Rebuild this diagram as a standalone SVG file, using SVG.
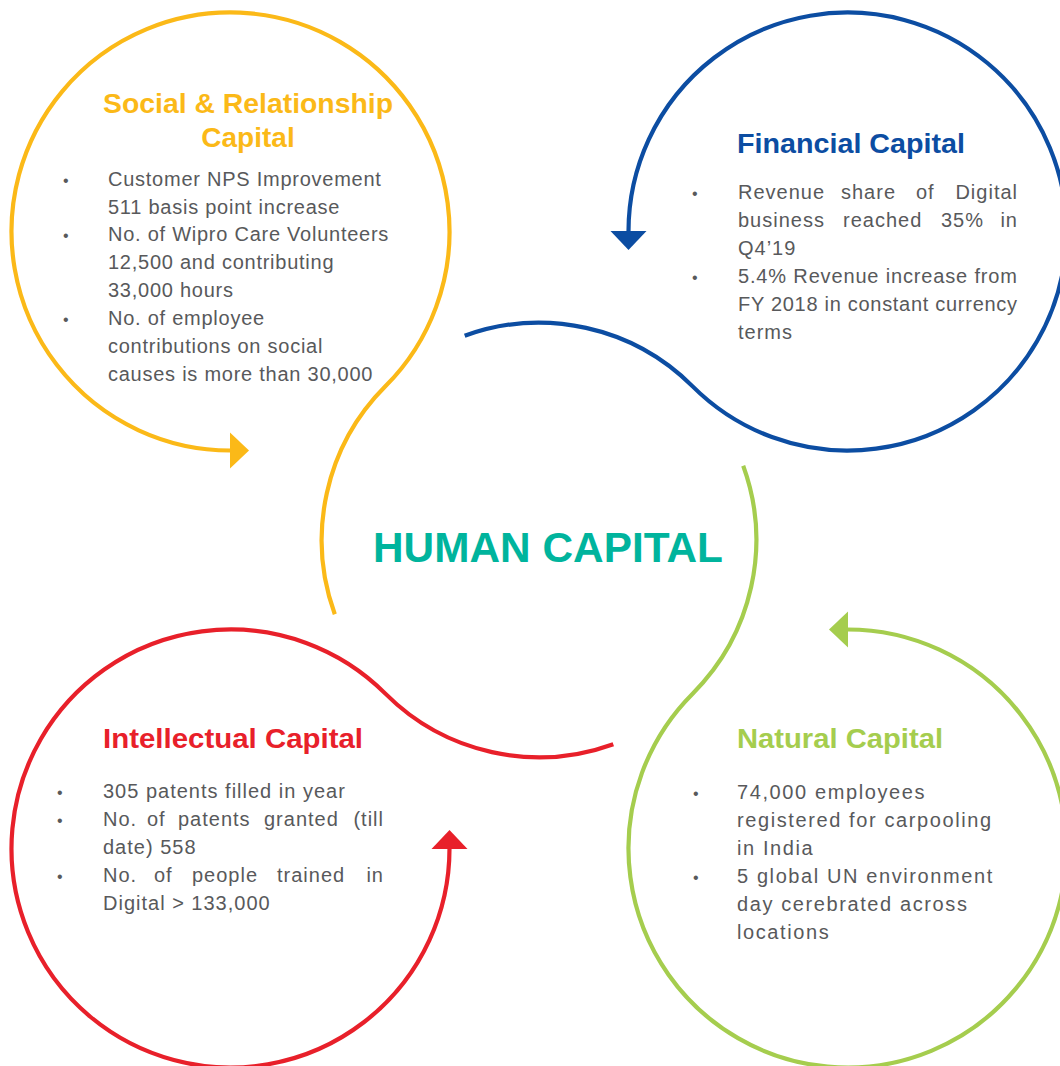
<svg xmlns="http://www.w3.org/2000/svg" xmlns:xlink="http://www.w3.org/1999/xlink" width="1060" height="1066" viewBox="0 0 1060 1066">
<style>
.title{font-family:"Liberation Sans",Arial,sans-serif;font-weight:bold;font-size:28px}
.body{font-family:"Liberation Sans",Arial,sans-serif;font-size:20px;fill:#58595B;letter-spacing:1px}
.green .body{letter-spacing:1.6px}
.yellow .body{letter-spacing:0.75px}
.bullet{font-family:"Liberation Sans",Arial,sans-serif;font-size:16px;fill:#58595B}
.end{text-anchor:end}
</style>
<defs>
<g id="lobe">
<path d="M 334.8 614.3 A 217.28 217.28 0 0 1 385.36 386.36 A 219 219 0 1 0 230.5 450.5" fill="none" stroke="currentColor" stroke-width="4.2"/>
<polygon points="230,432.5 249,450.5 230,468.5" fill="currentColor"/>
</g>
</defs>
<rect width="1060" height="1066" fill="#ffffff"/>
<g id="connectors">
<use xlink:href="#lobe" color="#FBB918"/>
<use xlink:href="#lobe" color="#0C4DA2" transform="rotate(90 539 540)"/>
<use xlink:href="#lobe" color="#A5CD4E" transform="rotate(180 539 540)"/>
<use xlink:href="#lobe" color="#E8202A" transform="rotate(270 539 540)"/>
</g>
<g id="human-capital">
<text x="548" y="562" text-anchor="middle" font-family="Liberation Sans, Arial, sans-serif" font-weight="bold" font-size="42" fill="#00B49D" textLength="350" lengthAdjust="spacingAndGlyphs">HUMAN CAPITAL</text>
</g>
<g id="social-relationship-capital" class="yellow">
<text class="title" fill="#FBB918" x="248" y="113" text-anchor="middle" textLength="290" lengthAdjust="spacingAndGlyphs">Social &amp; Relationship</text>
<text class="title" fill="#FBB918" x="248" y="147" text-anchor="middle">Capital</text>
<text class="bullet" x="63" y="186">•</text>
<text class="bullet" x="63" y="241">•</text>
<text class="bullet" x="63" y="325">•</text>
<text class="body" x="108" y="186">Customer NPS Improvement</text>
<text class="body" x="108" y="214">511 basis point increase</text>
<text class="body" x="108" y="241">No. of Wipro Care Volunteers</text>
<text class="body" x="108" y="269">12,500 and contributing</text>
<text class="body" x="108" y="297">33,000 hours</text>
<text class="body" x="108" y="325">No. of employee</text>
<text class="body" x="108" y="353">contributions on social</text>
<text class="body" x="108" y="381">causes is more than 30,000</text>
</g>
<g id="financial-capital">
<text class="title" fill="#0C4DA2" x="737" y="153" textLength="228" lengthAdjust="spacingAndGlyphs">Financial Capital</text>
<text class="bullet" x="692" y="199">•</text>
<text class="bullet" x="692" y="283">•</text>
<text class="body" y="199"><tspan x="738">Revenue</tspan><tspan x="841">share</tspan><tspan x="916">of</tspan><tspan x="1018" class="end">Digital</tspan></text>
<text class="body" y="227"><tspan x="738">business</tspan><tspan x="843">reached</tspan><tspan x="941">35%</tspan><tspan x="1018" class="end">in</tspan></text>
<text class="body" x="738" y="255">Q4’19</text>
<text class="body" x="738" y="283" textLength="280" lengthAdjust="spacing">5.4% Revenue increase from</text>
<text class="body" x="738" y="311" textLength="280" lengthAdjust="spacing">FY 2018 in constant currency</text>
<text class="body" x="738" y="339">terms</text>
</g>
<g id="intellectual-capital">
<text class="title" fill="#E8202A" x="103" y="748" textLength="260" lengthAdjust="spacingAndGlyphs">Intellectual Capital</text>
<text class="bullet" x="57" y="798">•</text>
<text class="bullet" x="57" y="826">•</text>
<text class="bullet" x="57" y="882">•</text>
<text class="body" x="103" y="798">305 patents filled in year</text>
<text class="body" y="826"><tspan x="103">No.</tspan><tspan x="147">of</tspan><tspan x="178">patents</tspan><tspan x="264">granted</tspan><tspan x="384" class="end">(till</tspan></text>
<text class="body" x="103" y="854">date) 558</text>
<text class="body" y="882"><tspan x="103">No.</tspan><tspan x="154">of</tspan><tspan x="192">people</tspan><tspan x="277">trained</tspan><tspan x="384" class="end">in</tspan></text>
<text class="body" x="103" y="910">Digital &gt; 133,000</text>
</g>
<g id="natural-capital" class="green">
<text class="title" fill="#A5CD4E" x="737" y="748" textLength="206" lengthAdjust="spacingAndGlyphs">Natural Capital</text>
<text class="bullet" x="693" y="799">•</text>
<text class="bullet" x="693" y="883">•</text>
<text class="body" x="737" y="799">74,000 employees</text>
<text class="body" x="737" y="827">registered for carpooling</text>
<text class="body" x="737" y="855">in India</text>
<text class="body" x="737" y="883">5 global UN environment</text>
<text class="body" x="737" y="911">day cerebrated across</text>
<text class="body" x="737" y="939">locations</text>
</g>
</svg>
